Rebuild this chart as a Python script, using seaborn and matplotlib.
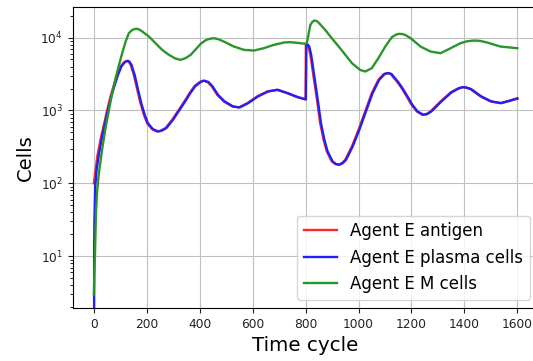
import matplotlib
matplotlib.use("Agg")
import matplotlib.pyplot as plt
import seaborn as sns
import numpy as np

# ---- data ----
t_antigen = [0, 13, 25, 38, 50, 63, 76, 88, 101, 113, 120, 126, 132, 139, 151, 164, 176, 189,
             201, 220, 239, 252, 271, 296, 321, 346, 360, 380, 400, 409, 416, 430, 445, 466,
             491, 523, 548, 580, 617, 655, 692, 730, 768, 796, 800, 801, 806, 811, 818, 830,
             843, 855, 868, 880, 899, 912, 925, 938, 950, 975, 1000, 1025, 1050, 1075, 1095,
             1105, 1113, 1122, 1130, 1145, 1160, 1180, 1200, 1220, 1241, 1256, 1272, 1310,
             1348, 1375, 1392, 1405, 1423, 1461, 1499, 1536, 1568, 1600]
antigen = [100, 234, 396, 637, 1000, 1556, 2250, 3080, 4010, 4550, 4720, 4790, 4650, 4220,
           3080, 1920, 1260, 873, 670, 554, 515, 526, 573, 745, 1020, 1400, 1700, 2150, 2450,
           2540, 2550, 2450, 2150, 1640, 1330, 1135, 1100, 1260, 1556, 1820, 1920, 1726, 1523,
           1430, 1420, 7940, 8000, 7500, 5800, 2930, 1400, 670, 396, 274, 200, 184, 180, 190,
           211, 321, 543, 968, 1726, 2630, 3150, 3230, 3240, 3150, 2900, 2500, 2100, 1600,
           1200, 970, 873, 890, 968, 1330, 1766, 2000, 2090, 2060, 1960, 1556, 1330, 1260,
           1355, 1475]

t_plasma = [0, 1, 2, 5, 10, 19, 29, 41, 53, 66, 79, 91, 104, 116, 123, 129, 135, 142, 154,
            167, 179, 192, 204, 223, 242, 255, 274, 299, 324, 349, 363, 383, 403, 412, 419,
            433, 448, 469, 494, 526, 551, 583, 620, 658, 695, 733, 771, 798, 801, 803, 808,
            814, 821, 833, 846, 858, 871, 883, 902, 915, 928, 941, 953, 978, 1003, 1028, 1053,
            1078, 1098, 1108, 1116, 1125, 1133, 1148, 1163, 1183, 1203, 1223, 1244, 1259,
            1275, 1313, 1351, 1378, 1395, 1408, 1426, 1464, 1502, 1539, 1571, 1600]
plasma = [0, 10, 30, 90, 150, 250, 396, 637, 1000, 1556, 2250, 3080, 4010, 4550, 4720, 4790,
          4650, 4220, 3080, 1920, 1260, 873, 670, 554, 515, 526, 573, 745, 1020, 1400, 1700,
          2150, 2450, 2540, 2550, 2450, 2150, 1640, 1330, 1135, 1100, 1260, 1556, 1820, 1920,
          1726, 1523, 1430, 1420, 7940, 8000, 7500, 5800, 2930, 1400, 670, 396, 274, 200,
          184, 180, 190, 211, 321, 543, 968, 1726, 2630, 3150, 3230, 3240, 3150, 2900, 2500,
          2100, 1600, 1200, 970, 873, 890, 968, 1330, 1766, 2000, 2090, 2060, 1960, 1556,
          1330, 1260, 1355, 1450]

t_mcells = [0, 2, 4, 8, 12, 15, 19, 32, 44, 57, 69, 82, 95, 107, 120, 132, 145, 155, 164,
            173, 183, 208, 233, 258, 283, 308, 327, 346, 366, 385, 405, 425, 440, 454, 470,
            491, 529, 567, 605, 642, 680, 718, 740, 756, 781, 800, 805, 812, 818, 826, 834,
            841, 849, 874, 899, 925, 950, 975, 1006, 1025, 1050, 1075, 1101, 1126, 1140,
            1151, 1163, 1176, 1197, 1234, 1272, 1310, 1348, 1385, 1410, 1436, 1460, 1486,
            1536, 1600]
mcells = [3, 6, 10, 40, 75, 100, 139, 305, 573, 1020, 1726, 2770, 4220, 6100, 8810, 11460,
          12740, 13100, 13150, 12800, 12080, 10320, 8360, 6780, 5800, 5160, 4940, 5210, 5800,
          6900, 8300, 9300, 9650, 9790, 9500, 8810, 7530, 6780, 6640, 7140, 7940, 8550, 8650,
          8550, 8360, 8190, 8550, 11500, 14920, 16500, 17100, 16900, 16030, 12740, 9790,
          7530, 5800, 4450, 3600, 3420, 3800, 5210, 7530, 10110, 10900, 11220, 11200, 10880,
          9790, 7530, 6430, 6100, 7140, 8360, 8900, 9100, 9000, 8550, 7530, 7140]

labels = ["Agent E antigen", "Agent E plasma cells", "Agent E M cells"]
colors = ["#ff2626", "#2020ff", "#2a962a"]

# ---- figure ----
W, H = 533, 361
fig = plt.figure(figsize=(W / 100, H / 100), dpi=100)
left, right, top, bottom = 72.7, 538.5, 6.7, 308.0
ax = fig.add_axes([left / W, (H - bottom) / H, (right - left) / W, (bottom - top) / H])

series = [(t_antigen, antigen), (t_plasma, plasma), (t_mcells, mcells)]
for (tt, vv), lab, col in zip(series, labels, colors):
    sns.lineplot(x=np.array(tt, dtype=float), y=np.array(vv, dtype=float), ax=ax,
                 color=col, linewidth=1.7, label=lab,
                 estimator=None, sort=False)

ax.set_yscale("log")
ax.set_xlim(-80, 1680)
ax.set_ylim(1.95, 26500)
ax.set_xticks([0, 200, 400, 600, 800, 1000, 1200, 1400, 1600])
ax.grid(True, which="major", color="#c0c0c0", linewidth=0.8)
ax.tick_params(labelsize=8.8, colors="#222222")
ax.set_xlabel("Time cycle", fontsize=14.3)
ax.set_ylabel("Cells", fontsize=14)
ax.legend(loc="lower right", fontsize=12)

fig.savefig("out.png", dpi=100)
